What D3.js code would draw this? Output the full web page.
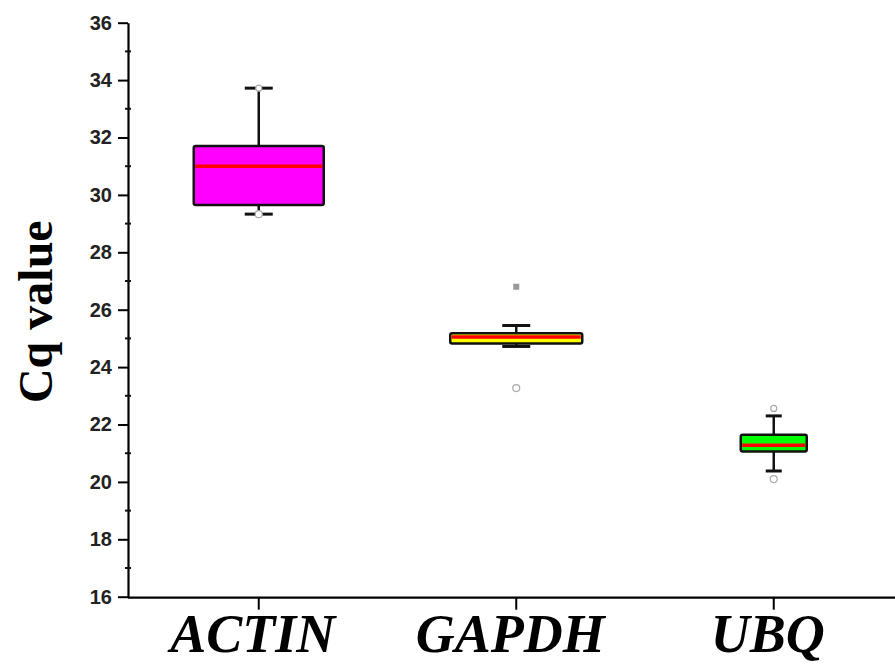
<!DOCTYPE html>
<html>
<head>
<meta charset="utf-8">
<script src="https://cdn.jsdelivr.net/npm/d3@7"></script>
<style>
  body { margin: 0; background: #fff; }
  .tick text { font-family: Arial, "Liberation Sans", sans-serif; font-weight: bold; }
</style>
</head>
<body>
<svg id="chart"></svg>
<script>
// data
const genes = ['ACTIN', 'GAPDH', 'UBQ'];
const q1 = [29.65, 24.82, 21.06];
const median = [31.0, 25.05, 21.28];
const q3 = [31.70, 25.18, 21.64];
const whiskerLow = [29.33, 24.72, 20.38];
const whiskerHigh = [33.72, 25.45, 22.30];
const maxPoint = [33.72, 26.8, 22.56];
const minPoint = [29.33, 23.27, 20.10];
const yTicks = [16, 18, 20, 22, 24, 26, 28, 30, 32, 34, 36];

// per-category look
const boxStyle = {
  ACTIN: { fill: '#ff00ff', width: 130, cap: 28 },
  GAPDH: { fill: '#ffff00', width: 132, cap: 28 },
  UBQ:   { fill: '#00ff00', width: 66,  cap: 16 }
};

const config = {
  width: 895,
  height: 664,
  axisX: 128,
  top: 22.7,
  bottom: 596.7
};

const svg = d3.select('#chart')
  .attr('width', config.width)
  .attr('height', config.height);

const yScale = d3.scaleLinear()
  .domain([16, 36])
  .range([config.bottom, config.top]);

const xScale = d3.scaleBand()
  .domain(genes)
  .range([130, 902.5])
  .padding(0);

const rows = genes.map((g, i) => ({
  gene: g, q1: q1[i], median: median[i], q3: q3[i],
  lo: whiskerLow[i], hi: whiskerHigh[i], max: maxPoint[i], min: minPoint[i]
}));

// y axis
const yAxis = d3.axisLeft(yScale)
  .tickValues(yTicks)
  .tickSize(10)
  .tickSizeOuter(0)
  .tickPadding(6)
  .tickFormat(d => d);

const yAxisG = svg.append('g')
  .attr('transform', `translate(${config.axisX},0)`)
  .call(yAxis);
yAxisG.select('.domain').attr('stroke-width', 2.2);
yAxisG.selectAll('.tick line').attr('stroke-width', 2);
yAxisG.selectAll('.tick text').attr('font-size', 20).attr('fill', '#222');

// minor ticks
svg.append('g')
  .selectAll('line')
  .data(d3.range(17, 36, 2))
  .join('line')
  .attr('x1', config.axisX - 3)
  .attr('x2', config.axisX + 3)
  .attr('y1', d => yScale(d))
  .attr('y2', d => yScale(d))
  .attr('stroke', '#111')
  .attr('stroke-width', 2);

// x axis
const xAxisG = svg.append('g')
  .attr('transform', `translate(0,${config.bottom + 1})`)
  .call(d3.axisBottom(xScale).tickSize(12).tickSizeOuter(0).tickFormat(''));
xAxisG.select('.domain')
  .attr('d', `M${config.axisX},0H${config.width}`)
  .attr('stroke-width', 2.2);
xAxisG.selectAll('.tick line').attr('stroke-width', 2);

svg.append('g')
  .selectAll('text')
  .data(genes)
  .join('text')
  .attr('x', d => xScale(d) + xScale.bandwidth() / 2 - 6)
  .attr('y', 652)
  .attr('text-anchor', 'middle')
  .attr('font-family', '"Liberation Serif", "Times New Roman", serif')
  .attr('font-style', 'italic')
  .attr('font-weight', 'bold')
  .attr('font-size', 54)
  .text(d => d);

// y title
svg.append('text')
  .attr('transform', `translate(52,${(yScale(16) + yScale(36)) / 2 + 2}) rotate(-90)`)
  .attr('text-anchor', 'middle')
  .attr('font-family', '"Liberation Serif", "Times New Roman", serif')
  .attr('font-weight', 'bold')
  .attr('font-size', 48)
  .text('Cq value');

// boxes
const cx = d => xScale(d.gene) + xScale.bandwidth() / 2;
const boxes = svg.append('g').selectAll('g')
  .data(rows)
  .join('g');

boxes.append('line')
  .attr('x1', cx).attr('x2', cx)
  .attr('y1', d => yScale(d.hi))
  .attr('y2', d => yScale(d.lo))
  .attr('stroke', '#111')
  .attr('stroke-width', 2.5);

boxes.selectAll('.cap')
  .data(d => [d.hi, d.lo].map(v => ({ v, d })))
  .join('line')
  .attr('class', 'cap')
  .attr('x1', e => cx(e.d) - boxStyle[e.d.gene].cap / 2)
  .attr('x2', e => cx(e.d) + boxStyle[e.d.gene].cap / 2)
  .attr('y1', e => yScale(e.v))
  .attr('y2', e => yScale(e.v))
  .attr('stroke', '#111')
  .attr('stroke-width', 3);

boxes.append('rect')
  .attr('x', d => cx(d) - boxStyle[d.gene].width / 2)
  .attr('width', d => boxStyle[d.gene].width)
  .attr('y', d => yScale(d.q3))
  .attr('height', d => yScale(d.q1) - yScale(d.q3))
  .attr('fill', d => boxStyle[d.gene].fill)
  .attr('stroke', '#111')
  .attr('stroke-width', 2.5)
  .attr('rx', 2);

boxes.append('line')
  .attr('x1', d => cx(d) - boxStyle[d.gene].width / 2 + 1.5)
  .attr('x2', d => cx(d) + boxStyle[d.gene].width / 2 - 1.5)
  .attr('y1', d => yScale(d.median))
  .attr('y2', d => yScale(d.median))
  .attr('stroke', '#ff0000')
  .attr('stroke-width', 3.5);

// min / max markers
boxes.append('circle')
  .attr('cx', cx)
  .attr('cy', d => yScale(d.max))
  .attr('r', d => d.gene === 'GAPDH' ? 0 : 3)
  .attr('fill', '#fff')
  .attr('stroke', '#aaa')
  .attr('stroke-width', 1.2);

boxes.filter(d => d.gene === 'GAPDH').append('rect')
  .attr('x', d => cx(d) - 3)
  .attr('y', d => yScale(d.max) - 3)
  .attr('width', 6)
  .attr('height', 6)
  .attr('fill', '#999');

boxes.append('circle')
  .attr('cx', cx)
  .attr('cy', d => yScale(d.min))
  .attr('r', 3.5)
  .attr('fill', '#fff')
  .attr('stroke', '#aaa')
  .attr('stroke-width', 1.2);
</script>
</body>
</html>
